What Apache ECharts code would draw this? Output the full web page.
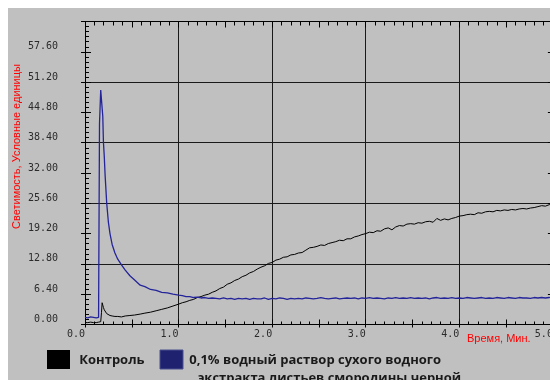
<!DOCTYPE html>
<html>
<head>
<meta charset="utf-8">
<script src="https://cdn.jsdelivr.net/npm/echarts@6/dist/echarts.min.js"></script>
<style>
  html, body { margin: 0; padding: 0; background: #ffffff; width: 550px; height: 380px; overflow: hidden; }
  #chart { position: absolute; left: 8px; top: 8px; width: 542px; height: 372px; background: #c0c0c0; }
</style>
</head>
<body>
<div id="chart"></div>
<script>
// Time, minutes
const times = [
  0, 0.03, 0.06, 0.09, 0.12, 0.145, 0.15, 0.155, 0.168, 0.176,
  0.183, 0.19, 0.197, 0.206, 0.215, 0.232, 0.25, 0.267, 0.29, 0.32,
  0.35, 0.39, 0.43, 0.48, 0.53, 0.59, 0.64, 0.70, 0.76, 0.82,
  0.88, 0.94,
  1.00, 1.04, 1.08, 1.12, 1.16, 1.20, 1.24, 1.28, 1.32, 1.36,
  1.40, 1.44, 1.48, 1.52, 1.56, 1.60, 1.64, 1.68, 1.72, 1.76,
  1.80, 1.84, 1.88, 1.92, 1.96, 2.00, 2.04, 2.08, 2.12, 2.16,
  2.20, 2.24, 2.28, 2.32, 2.36, 2.40, 2.44, 2.48, 2.52, 2.56,
  2.60, 2.64, 2.68, 2.72, 2.76, 2.80, 2.84, 2.88, 2.92, 2.96,
  3.00, 3.04, 3.08, 3.12, 3.16, 3.20, 3.24, 3.28, 3.32, 3.36,
  3.40, 3.44, 3.48, 3.52, 3.56, 3.60, 3.64, 3.68, 3.72, 3.76,
  3.80, 3.84, 3.88, 3.92, 3.96, 4.00, 4.04, 4.08, 4.12, 4.16,
  4.20, 4.24, 4.28, 4.32, 4.36, 4.40, 4.44, 4.48, 4.52, 4.56,
  4.60, 4.64, 4.68, 4.72, 4.76, 4.80, 4.84, 4.88, 4.92, 4.96,
  5.00
];

// Luminescence, control sample
const controlValues = [
  0.4, 0.4, 0.5, 0.4, 0.4, 0.5, 0.5, 0.5, 0.6, 2.5,
  4.6, 4.1, 3.6, 3.1, 2.7, 2.3, 2.0, 1.9, 1.8, 1.7,
  1.7, 1.6, 1.8, 1.9, 2.0, 2.2, 2.4, 2.6, 2.9, 3.2,
  3.5, 3.9,
  4.3, 4.6, 4.8, 5.1, 5.3, 5.7, 5.9, 6.2, 6.4, 6.8,
  7.1, 7.6, 7.9, 8.5, 8.8, 9.3, 9.6, 10.1, 10.4, 10.9,
  11.2, 11.7, 12.1, 12.4, 12.9, 13.1, 13.6, 13.8, 14.2, 14.3,
  14.7, 14.8, 15.1, 15.2, 15.7, 16.2, 16.3, 16.5, 16.8, 16.7,
  17.1, 17.3, 17.5, 17.8, 17.7, 18.1, 18.1, 18.5, 18.7, 19.0,
  19.2, 19.5, 19.4, 19.8, 19.7, 20.2, 20.4, 20.0, 20.6, 20.9,
  20.8, 21.2, 21.3, 21.2, 21.5, 21.4, 21.7, 21.8, 21.6, 22.4,
  22.0, 22.3, 22.1, 22.4, 22.6, 22.9, 23.0, 23.2, 23.3, 23.2,
  23.6, 23.5, 23.8, 23.9, 23.8, 24.1, 24.0, 24.2, 24.1, 24.3,
  24.2, 24.4, 24.5, 24.4, 24.6, 24.7, 24.9, 25.1, 25.0, 25.3,
  25.5
];

// Luminescence, 0.1% aqueous extract of blackcurrant leaves
const extractValues = [
  1.5, 1.4, 1.6, 1.5, 1.4, 1.5, 1.6, 42.5, 49.5, 49.3,
  49.6, 44.0, 38.5, 35.5, 31.5, 25.6, 21.6, 19.2, 16.9, 15.1,
  13.8, 12.6, 11.5, 10.3, 9.4, 8.3, 8.0, 7.4, 7.2, 6.8,
  6.7, 6.4,
  6.2, 6.1, 5.9, 5.9, 5.7, 5.8, 5.6, 5.7, 5.5, 5.6,
  5.5, 5.4, 5.6, 5.4, 5.5, 5.3, 5.5, 5.4, 5.5, 5.3,
  5.5, 5.4, 5.4, 5.6, 5.3, 5.5, 5.4, 5.6, 5.5, 5.3,
  5.5, 5.4, 5.5, 5.4, 5.6, 5.5, 5.4, 5.5, 5.7, 5.5,
  5.4, 5.5, 5.6, 5.4, 5.5, 5.6, 5.5, 5.6, 5.4, 5.6,
  5.5, 5.7, 5.5, 5.6, 5.5, 5.4, 5.6, 5.5, 5.7, 5.5,
  5.6, 5.5, 5.7, 5.5, 5.6, 5.5, 5.6, 5.4, 5.6, 5.7,
  5.5, 5.6, 5.5, 5.7, 5.5, 5.6, 5.5, 5.7, 5.6, 5.5,
  5.6, 5.7, 5.5, 5.6, 5.5, 5.7, 5.6, 5.5, 5.7, 5.6,
  5.5, 5.7, 5.6, 5.6, 5.5, 5.7, 5.6, 5.7, 5.6, 5.7,
  5.9
];

const seriesNames = ['Контроль', '0,1% водный раствор сухого водного', 'экстракта листьев смородины черной'];
const axisNames = { x: 'Время, Мин.', y: 'Светимость, Условные единицы' };

// Axis ranges and steps
const xRange = [0, 5];
const yRange = [0, 64];
const xLabelStep = 1.0;
const xTickStep = 0.5;
const yLabelStep = 6.4;
const yGridStep = 12.8;

const monoFont = 'DejaVu Sans Mono';
const tickColor = '#000000';
const gridColor = '#1a1a1a';
const labelColor = '#2b2b2b';
const controlColor = '#000000';
const extractColor = '#24249a';

function pairs(xs, ys) { return xs.map((x, i) => [x, ys[i]]); }

const hidden = {
  axisLine: { show: false }, axisTick: { show: false },
  axisLabel: { show: false }, splitLine: { show: false }, minorTick: { show: false }
};

const chart = echarts.init(document.getElementById('chart'), null, { renderer: 'canvas' });

chart.setOption({
  animation: false,
  backgroundColor: '#c0c0c0',
  grid: { left: 77, top: 13.5, right: -2.9, bottom: 55.5, containLabel: false, outerBoundsMode: 'none' },
  xAxis: [
    { // bottom axis with labels and inward ticks
      type: 'value', position: 'bottom', min: xRange[0], max: xRange[1], interval: xTickStep,
      axisLine: { show: true, onZero: false, lineStyle: { color: tickColor, width: 1 } },
      axisTick: { show: true, inside: true, length: 5, lineStyle: { color: tickColor } },
      minorTick: { show: true, splitNumber: 5, length: 3, lineStyle: { color: tickColor } },
      axisLabel: {
        show: true, margin: 5, align: 'right', verticalAlign: 'top',
        fontFamily: monoFont, fontSize: 10, color: labelColor,
        formatter: v => Math.abs(v / xLabelStep - Math.round(v / xLabelStep)) < 1e-6 ? v.toFixed(1) : ''
      },
      splitLine: { show: false }
    },
    { // bottom outward ticks
      type: 'value', position: 'bottom', min: xRange[0], max: xRange[1], interval: xTickStep,
      ...hidden,
      axisTick: { show: true, inside: false, length: 3, lineStyle: { color: tickColor } }
    },
    { // top border with inward ticks
      type: 'value', position: 'top', min: xRange[0], max: xRange[1], interval: xTickStep,
      ...hidden,
      axisLine: { show: true, onZero: false, lineStyle: { color: tickColor, width: 1 } },
      axisTick: { show: true, inside: true, length: 6, lineStyle: { color: tickColor } },
      minorTick: { show: true, splitNumber: 5, length: 4, lineStyle: { color: tickColor } }
    },
    { // vertical grid lines
      type: 'value', position: 'bottom', min: xRange[0], max: xRange[1], interval: xLabelStep,
      ...hidden,
      splitLine: { show: true, lineStyle: { color: gridColor, width: 1 } }
    }
  ],
  yAxis: [
    { // left axis with labels
      type: 'value', position: 'left', min: yRange[0], max: yRange[1], interval: yLabelStep,
      axisLine: { show: true, onZero: false, lineStyle: { color: tickColor, width: 1 } },
      axisTick: { show: true, inside: true, length: 6, lineStyle: { color: tickColor } },
      minorTick: { show: true, splitNumber: 6, length: 4, lineStyle: { color: tickColor } },
      axisLabel: {
        show: true, margin: 27, verticalAlign: 'bottom', showMaxLabel: false,
        fontFamily: monoFont, fontSize: 10, color: labelColor,
        formatter: v => v.toFixed(2)
      },
      splitLine: { show: false }
    },
    { // left outward ticks
      type: 'value', position: 'left', min: yRange[0], max: yRange[1], interval: yLabelStep,
      ...hidden,
      axisTick: { show: true, inside: false, length: 4, lineStyle: { color: tickColor } }
    },
    { // right border ticks
      type: 'value', position: 'right', min: yRange[0], max: yRange[1], interval: yLabelStep,
      ...hidden,
      axisLine: { show: true, onZero: false, lineStyle: { color: tickColor, width: 1 } },
      axisTick: { show: true, inside: true, length: 5, lineStyle: { color: tickColor } }
    },
    { // horizontal grid lines
      type: 'value', position: 'left', min: yRange[0], max: yRange[1], interval: yGridStep,
      ...hidden,
      splitLine: { show: true, lineStyle: { color: gridColor, width: 1 } }
    }
  ],
  series: [
    {
      name: seriesNames[0], type: 'line', xAxisIndex: 0, yAxisIndex: 0,
      data: pairs(times, controlValues),
      showSymbol: false, silent: true, z: 3,
      lineStyle: { color: controlColor, width: 1 }, itemStyle: { color: controlColor }
    },
    {
      name: seriesNames[1] + ' ' + seriesNames[2], type: 'line', xAxisIndex: 0, yAxisIndex: 0,
      data: pairs(times, extractValues),
      showSymbol: false, silent: true, z: 3,
      lineStyle: { color: extractColor, width: 1.3 }, itemStyle: { color: extractColor }
    }
  ],
  graphic: [
    { // x axis name
      type: 'text', left: 459, top: 325, silent: true,
      style: { text: axisNames.x, fill: '#ff0000', font: '11px "Liberation Sans"' }
    },
    { // y axis name, reading upward
      type: 'text', x: 8.7, y: 138.5, rotation: Math.PI / 2, silent: true,
      style: {
        text: axisNames.y, fill: '#ff0000', font: '11px "Liberation Sans"',
        align: 'center', verticalAlign: 'middle', textAlign: 'center', textVerticalAlign: 'middle'
      }
    },
    // legend
    { type: 'rect', shape: { x: 39, y: 342, width: 23, height: 19 }, style: { fill: '#000000' }, silent: true },
    {
      type: 'text', x: 71.3, y: 352, silent: true,
      style: { text: seriesNames[0], fill: '#1a1a1a', font: 'bold 13px "Open Sans"', verticalAlign: 'middle', textVerticalAlign: 'middle' }
    },
    { type: 'rect', shape: { x: 152, y: 342, width: 23, height: 19 }, style: { fill: '#1f226e', stroke: '#4b4f8e', lineWidth: 1 }, silent: true },
    {
      type: 'text', x: 181.3, y: 352, silent: true,
      style: { text: seriesNames[1], fill: '#1a1a1a', font: 'bold 13px "Open Sans"', verticalAlign: 'middle', textVerticalAlign: 'middle' }
    },
    {
      type: 'text', x: 189.7, y: 370, silent: true,
      style: { text: seriesNames[2], fill: '#1a1a1a', font: 'bold 13px "Open Sans"', verticalAlign: 'middle', textVerticalAlign: 'middle' }
    }
  ]
});
</script>
</body>
</html>
